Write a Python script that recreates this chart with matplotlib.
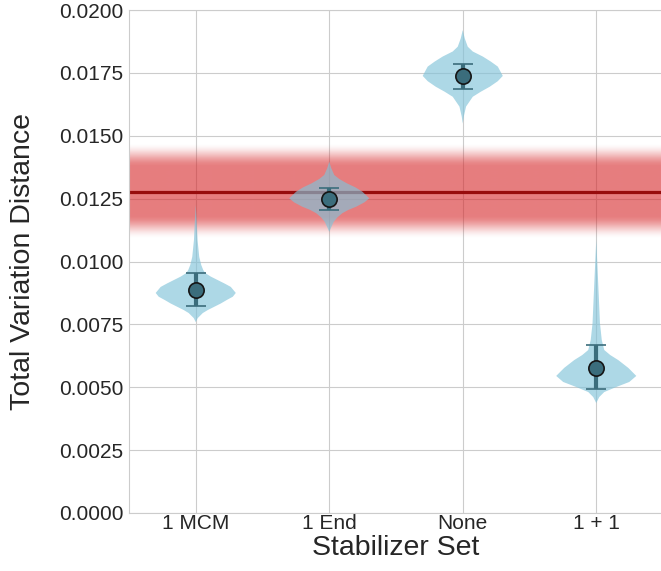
"""Violin plot of total variation distance per stabilizer set, with a reference band."""

import numpy as np
import matplotlib

matplotlib.use("Agg")
import matplotlib.pyplot as plt
import seaborn as sns

# --- data ------------------------------------------------------------------
CATEGORIES = ["1 MCM", "1 End", "None", "1 + 1"]

MEANS = [0.00887, 0.01248, 0.01738, 0.00578]
CI_LOW = [0.00824, 0.01205, 0.01687, 0.00492]
CI_HIGH = [0.00955, 0.01293, 0.01785, 0.00667]

# density profiles (value, relative density) for each violin
MCM_Y = [0.01225, 0.01153, 0.01085, 0.01018, 0.00986, 0.00966, 0.00954,
         0.00940, 0.00926, 0.00912, 0.00899, 0.00875, 0.00860, 0.00847,
         0.00833, 0.00819, 0.00807, 0.00795, 0.00775, 0.00759]
MCM_D = [0.0, 1.0, 1.8, 3.5, 5.5, 7.5, 9.5, 15.0, 22.0, 29.0, 35.0, 40.0,
         37.0, 31.0, 25.0, 18.0, 12.0, 7.0, 2.0, 0.0]

END_Y = [0.01397, 0.01371, 0.01344, 0.01328, 0.01311, 0.01295, 0.01278,
         0.01251, 0.01235, 0.01218, 0.01205, 0.01192, 0.01175, 0.01158,
         0.01132, 0.01118]
END_D = [0.0, 2.0, 5.0, 10.0, 17.5, 26.0, 33.0, 40.0, 35.0, 27.0, 19.0,
         13.0, 8.0, 4.5, 1.5, 0.0]

NONE_Y = [0.01920, 0.01887, 0.01854, 0.01835, 0.01815, 0.01795, 0.01775,
          0.01738, 0.01717, 0.01695, 0.01675, 0.01655, 0.01616, 0.01576,
          0.01549]
NONE_D = [0.0, 2.0, 5.0, 10.0, 20.0, 28.0, 35.0, 40.0, 35.0, 27.0, 18.0,
          10.0, 3.3, 1.0, 0.0]

PLUS_Y = [0.01085, 0.00954, 0.00819, 0.00755, 0.00688, 0.00648, 0.00628,
          0.00608, 0.00577, 0.00545, 0.00521, 0.00501, 0.00481, 0.00461,
          0.00437]
PLUS_D = [0.0, 1.5, 3.0, 3.7, 5.5, 8.0, 14.0, 22.0, 32.0, 40.0, 33.0, 20.0,
          8.0, 3.0, 0.0]

PROFILES = [(MCM_Y, MCM_D), (END_Y, END_D), (NONE_Y, NONE_D), (PLUS_Y, PLUS_D)]

# reference level and its uncertainty band
REF_LEVEL = 0.01278
REF_INNER = 0.00095
REF_OUTER = 0.0019

YTICKS = [0.0, 0.0025, 0.005, 0.0075, 0.01, 0.0125, 0.015, 0.0175, 0.02]

# --- style -----------------------------------------------------------------
sns.set_style("whitegrid")
plt.rcParams["font.family"] = ["Liberation Sans", "DejaVu Sans"]

VIOLIN_COLOR = "#81c3d9"
POINT_COLOR = "#3b6d7c"
BAND_RGB = (0.84, 0.15, 0.16)
LINE_COLOR = "#970c0c"

fig = plt.figure(figsize=(6.61, 5.71), dpi=100)
ax = fig.add_axes([129 / 661, 58 / 571, 534 / 661, 503 / 571])
ax.set_axisbelow(True)

positions = np.arange(len(CATEGORIES))

# reference band as a vertical gradient
yy = np.linspace(REF_LEVEL - REF_OUTER, REF_LEVEL + REF_OUTER, 400)
dist = np.abs(yy - REF_LEVEL)
t = np.clip((dist - REF_INNER) / (REF_OUTER - REF_INNER), 0, 1)
alpha = 0.6 * (1 - (3 * t**2 - 2 * t**3))
rgba = np.zeros((len(yy), 1, 4))
rgba[:, 0, :3] = BAND_RGB
rgba[:, 0, 3] = alpha
ax.imshow(rgba, extent=[-0.5, 3.5, yy[0], yy[-1]], origin="lower",
          aspect="auto", interpolation="bilinear", zorder=1)
ax.axhline(REF_LEVEL, color=LINE_COLOR, lw=2.3, zorder=2)

# violins
vpstats = []
for (ys, ds), m in zip(PROFILES, MEANS):
    ys = np.asarray(ys)
    ds = np.asarray(ds)
    order = np.argsort(ys)
    vpstats.append({
        "coords": ys[order],
        "vals": ds[order],
        "mean": m,
        "median": m,
        "min": ys.min(),
        "max": ys.max(),
    })
parts = ax.violin(vpstats, positions=positions, widths=0.6,
                  showmeans=False, showextrema=False, showmedians=False)
for body in parts["bodies"]:
    body.set_facecolor(VIOLIN_COLOR)
    body.set_edgecolor("none")
    body.set_alpha(0.65)
    body.set_zorder(3)

# means with intervals
means = np.asarray(MEANS)
yerr = np.vstack([means - np.asarray(CI_LOW), np.asarray(CI_HIGH) - means])
ax.errorbar(positions, means, yerr=yerr, fmt="o", color=POINT_COLOR,
            ecolor=POINT_COLOR, elinewidth=3.0, capsize=7, capthick=3.2,
            markersize=11, markerfacecolor=POINT_COLOR,
            markeredgecolor="#151515", markeredgewidth=1.2, zorder=4)

ax.set_xlim(-0.5, 3.5)
ax.set_ylim(0, 0.02)
ax.set_xticks(positions)
ax.set_xticklabels(CATEGORIES)
ax.set_yticks(YTICKS)
ax.set_yticklabels([f"{v:.4f}" for v in YTICKS])
ax.tick_params(axis="both", labelsize=15, length=0, colors="0.15")
ax.tick_params(axis="x", pad=1)
ax.tick_params(axis="y", pad=4)

ax.set_xlabel("Stabilizer Set", fontsize=20.5, color="0.15", labelpad=1)
ax.set_ylabel("Total Variation Distance", fontsize=20.5, color="0.15")
ax.yaxis.set_label_coords(-0.175, 0.5)

for side in ("top", "right", "left", "bottom"):
    ax.spines[side].set_color("0.8")

fig.savefig("out.png", dpi=100)
plt.close(fig)
